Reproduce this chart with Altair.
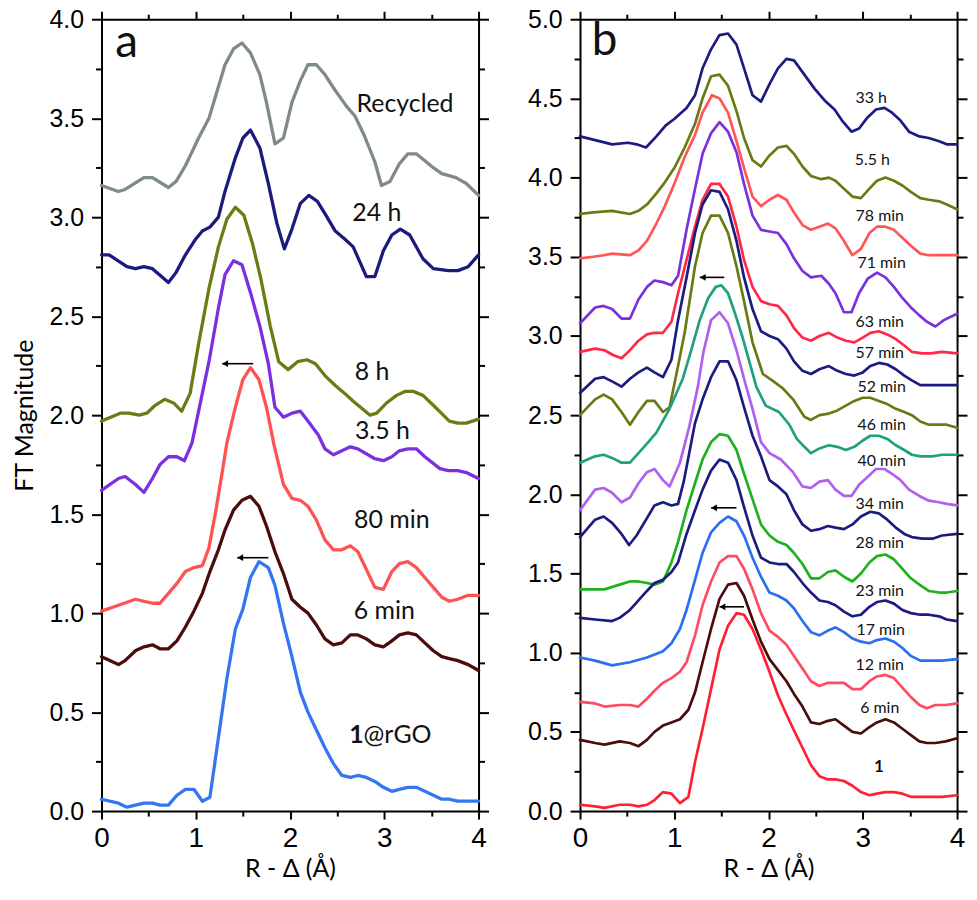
import altair as alt
import pandas as pd

# ---------------- Panel a : (R - Δ [Å], FT magnitude) ----------------
A_RECYCLED = [(0.00,3.16),(0.18,3.13),(0.25,3.14),(0.45,3.20),(0.54,3.20),(0.71,3.15),(0.79,3.18),(0.89,3.26),(1.03,3.40),(1.14,3.50),(1.31,3.77),(1.40,3.85),(1.49,3.88),(1.58,3.83),(1.68,3.72),(1.75,3.58),(1.84,3.37),(1.93,3.40),(2.02,3.58),(2.11,3.69),(2.19,3.77),(2.28,3.77),(2.37,3.72),(2.48,3.64),(2.60,3.56),(2.69,3.51),(2.79,3.41),(2.90,3.28),(2.97,3.16),(3.06,3.18),(3.16,3.27),(3.25,3.32),(3.34,3.32),(3.52,3.25),(3.61,3.22),(3.76,3.20),(3.87,3.17),(4.00,3.11)]
A_24H = [(0.00,2.81),(0.08,2.81),(0.27,2.75),(0.36,2.74),(0.45,2.75),(0.54,2.74),(0.71,2.67),(0.79,2.72),(0.89,2.81),(1.00,2.89),(1.07,2.93),(1.15,2.95),(1.24,3.00),(1.31,3.13),(1.42,3.30),(1.50,3.40),(1.58,3.44),(1.68,3.35),(1.77,3.17),(1.86,2.97),(1.94,2.84),(2.02,2.94),(2.11,3.07),(2.20,3.11),(2.29,3.08),(2.38,3.01),(2.48,2.93),(2.58,2.89),(2.67,2.85),(2.81,2.70),(2.90,2.70),(2.99,2.83),(3.08,2.91),(3.17,2.94),(3.27,2.91),(3.41,2.79),(3.52,2.74),(3.68,2.73),(3.78,2.73),(3.89,2.75),(4.00,2.81)]
A_8H = [(0.00,1.97),(0.20,2.01),(0.29,2.01),(0.40,2.00),(0.48,2.01),(0.57,2.05),(0.67,2.08),(0.77,2.06),(0.85,2.02),(0.94,2.11),(1.03,2.36),(1.14,2.64),(1.24,2.85),(1.33,2.99),(1.42,3.05),(1.51,3.01),(1.60,2.87),(1.69,2.69),(1.79,2.45),(1.88,2.27),(1.98,2.23),(2.08,2.27),(2.18,2.28),(2.27,2.26),(2.37,2.20),(2.48,2.15),(2.58,2.11),(2.67,2.07),(2.85,2.00),(2.92,2.01),(3.02,2.06),(3.13,2.10),(3.22,2.12),(3.31,2.12),(3.41,2.10),(3.52,2.05),(3.69,1.97),(3.78,1.96),(3.87,1.96),(4.00,1.98)]
A_35H = [(0.00,1.62),(0.18,1.68),(0.25,1.69),(0.36,1.65),(0.45,1.61),(0.54,1.68),(0.62,1.75),(0.71,1.79),(0.80,1.79),(0.88,1.77),(0.96,1.86),(1.03,2.02),(1.14,2.27),(1.24,2.54),(1.31,2.71),(1.40,2.78),(1.49,2.76),(1.58,2.62),(1.68,2.45),(1.77,2.26),(1.84,2.04),(1.93,1.99),(2.02,2.01),(2.11,2.02),(2.19,1.97),(2.30,1.90),(2.37,1.83),(2.46,1.80),(2.55,1.82),(2.64,1.84),(2.72,1.83),(2.90,1.78),(2.99,1.77),(3.08,1.79),(3.16,1.82),(3.25,1.83),(3.34,1.83),(3.43,1.79),(3.59,1.73),(3.68,1.72),(3.78,1.72),(3.87,1.71),(4.00,1.68)]
A_80MIN = [(0.00,1.01),(0.18,1.04),(0.36,1.07),(0.45,1.06),(0.54,1.05),(0.62,1.05),(0.71,1.10),(0.80,1.15),(0.89,1.21),(0.98,1.23),(1.07,1.24),(1.14,1.33),(1.21,1.51),(1.28,1.71),(1.33,1.86),(1.42,2.04),(1.50,2.18),(1.58,2.24),(1.67,2.18),(1.75,2.04),(1.83,1.85),(1.93,1.65),(2.02,1.58),(2.11,1.57),(2.19,1.54),(2.28,1.47),(2.37,1.37),(2.46,1.32),(2.55,1.32),(2.64,1.34),(2.72,1.31),(2.81,1.22),(2.90,1.13),(2.99,1.12),(3.08,1.21),(3.16,1.25),(3.25,1.26),(3.34,1.23),(3.43,1.18),(3.52,1.13),(3.61,1.08),(3.69,1.06),(3.78,1.07),(3.89,1.09),(4.00,1.09)]
A_6MIN = [(0.00,0.78),(0.18,0.74),(0.25,0.76),(0.36,0.81),(0.45,0.83),(0.54,0.84),(0.62,0.82),(0.71,0.82),(0.80,0.86),(0.89,0.93),(0.98,1.01),(1.07,1.10),(1.15,1.21),(1.24,1.32),(1.31,1.42),(1.40,1.52),(1.49,1.57),(1.58,1.59),(1.67,1.54),(1.75,1.44),(1.84,1.31),(1.93,1.20),(2.02,1.07),(2.11,1.03),(2.19,1.00),(2.28,0.94),(2.37,0.87),(2.46,0.84),(2.55,0.85),(2.64,0.89),(2.72,0.89),(2.81,0.87),(2.90,0.84),(2.99,0.83),(3.08,0.86),(3.16,0.89),(3.25,0.90),(3.34,0.89),(3.43,0.85),(3.52,0.81),(3.61,0.78),(3.69,0.77),(3.78,0.76),(3.89,0.74),(4.00,0.71)]
A_RGO = [(0.00,0.06),(0.18,0.04),(0.27,0.02),(0.36,0.03),(0.45,0.04),(0.54,0.04),(0.62,0.03),(0.71,0.03),(0.80,0.08),(0.89,0.11),(0.98,0.11),(1.07,0.05),(1.15,0.07),(1.24,0.37),(1.33,0.67),(1.42,0.92),(1.50,1.02),(1.58,1.18),(1.67,1.26),(1.77,1.23),(1.84,1.14),(1.93,0.95),(2.02,0.78),(2.11,0.60),(2.19,0.50),(2.28,0.41),(2.37,0.32),(2.46,0.24),(2.55,0.18),(2.64,0.17),(2.72,0.18),(2.81,0.17),(2.90,0.15),(2.99,0.12),(3.08,0.10),(3.16,0.11),(3.25,0.12),(3.34,0.12),(3.43,0.10),(3.52,0.08),(3.61,0.06),(3.69,0.06),(3.78,0.05),(3.89,0.05),(4.00,0.05)]

A_NAMES = ["Recycled", "24 h", "8 h", "3.5 h", "80 min", "6 min", "1@rGO"]
A_COLORS = ["#7F8A8A", "#1B1B7E", "#6A7D14", "#7B2FE0", "#FF5252", "#4A0C0C", "#3575F2"]
A_DATA = [A_RECYCLED, A_24H, A_8H, A_35H, A_80MIN, A_6MIN, A_RGO]

A_LABELS = ["Recycled", "24 h", "8 h", "3.5 h", "80 min", "6 min"]
A_LABEL_X = [3.22, 2.92, 2.87, 2.98, 3.08, 3.00]
A_LABEL_Y = [3.57, 3.02, 2.22, 1.92, 1.47, 1.01]
A_BOLD_PART = ["1"]
A_PLAIN_PART = ["@rGO"]
A_SPLIT_X = [2.78]
A_SPLIT_Y = [0.386]
A_ARROW_X1 = [1.28, 1.44]
A_ARROW_X2 = [1.61, 1.77]
A_ARROW_Y = [2.26, 1.28]

# ---------------- Panel b ----------------
B_33H = [(0.00,4.26),(0.14,4.24),(0.34,4.21),(0.51,4.22),(0.60,4.21),(0.70,4.19),(0.81,4.26),(0.91,4.33),(1.00,4.37),(1.13,4.44),(1.22,4.52),(1.30,4.69),(1.39,4.81),(1.48,4.90),(1.57,4.91),(1.66,4.84),(1.74,4.69),(1.83,4.52),(1.92,4.48),(2.01,4.59),(2.10,4.69),(2.19,4.75),(2.27,4.74),(2.38,4.65),(2.49,4.56),(2.59,4.49),(2.70,4.43),(2.78,4.36),(2.88,4.29),(2.96,4.31),(3.05,4.38),(3.14,4.43),(3.23,4.44),(3.31,4.41),(3.40,4.36),(3.49,4.29),(3.60,4.26),(3.70,4.25),(3.81,4.23),(3.89,4.21),(4.00,4.21)]
B_55H = [(0.00,3.77),(0.14,3.78),(0.34,3.79),(0.53,3.77),(0.62,3.79),(0.71,3.83),(0.81,3.90),(0.90,3.97),(1.00,4.06),(1.11,4.19),(1.22,4.34),(1.30,4.50),(1.39,4.64),(1.48,4.65),(1.57,4.58),(1.66,4.42),(1.74,4.25),(1.83,4.11),(1.92,4.07),(2.01,4.14),(2.10,4.19),(2.19,4.20),(2.27,4.15),(2.36,4.07),(2.45,4.01),(2.56,3.99),(2.64,4.00),(2.71,3.98),(2.80,3.93),(2.89,3.88),(2.98,3.87),(3.07,3.93),(3.15,3.98),(3.24,4.00),(3.33,3.98),(3.42,3.95),(3.51,3.91),(3.61,3.87),(3.70,3.86),(3.81,3.85),(3.89,3.83),(4.00,3.80)]
B_78MIN = [(0.00,3.49),(0.14,3.50),(0.25,3.51),(0.34,3.52),(0.53,3.51),(0.62,3.54),(0.71,3.60),(0.81,3.71),(0.90,3.82),(1.00,3.96),(1.11,4.13),(1.22,4.27),(1.30,4.41),(1.40,4.52),(1.48,4.50),(1.57,4.41),(1.66,4.23),(1.74,4.06),(1.83,3.88),(1.92,3.82),(2.01,3.86),(2.10,3.89),(2.19,3.86),(2.27,3.78),(2.36,3.70),(2.45,3.67),(2.54,3.69),(2.63,3.71),(2.71,3.68),(2.80,3.60),(2.89,3.51),(2.98,3.55),(3.07,3.65),(3.15,3.69),(3.24,3.69),(3.33,3.67),(3.42,3.62),(3.51,3.57),(3.61,3.52),(3.70,3.51),(3.81,3.51),(3.89,3.51),(4.00,3.51)]
B_71MIN = [(0.00,3.08),(0.16,3.18),(0.25,3.19),(0.34,3.17),(0.44,3.11),(0.53,3.11),(0.62,3.23),(0.71,3.31),(0.79,3.35),(0.88,3.34),(0.97,3.32),(1.04,3.38),(1.13,3.67),(1.22,3.93),(1.30,4.15),(1.39,4.28),(1.48,4.35),(1.57,4.29),(1.66,4.16),(1.74,3.96),(1.83,3.76),(1.92,3.67),(2.01,3.66),(2.10,3.65),(2.19,3.58),(2.27,3.49),(2.36,3.41),(2.45,3.37),(2.56,3.38),(2.64,3.33),(2.71,3.27),(2.80,3.15),(2.88,3.15),(2.96,3.27),(3.05,3.36),(3.15,3.40),(3.24,3.37),(3.33,3.31),(3.42,3.24),(3.51,3.18),(3.60,3.13),(3.68,3.09),(3.77,3.06),(3.86,3.10),(4.00,3.14)]
B_63MIN = [(0.00,2.90),(0.16,2.92),(0.26,2.91),(0.35,2.88),(0.44,2.86),(0.53,2.91),(0.62,2.97),(0.71,3.01),(0.79,3.02),(0.88,3.02),(0.97,3.09),(1.04,3.27),(1.13,3.48),(1.22,3.69),(1.30,3.86),(1.39,3.96),(1.48,3.96),(1.57,3.88),(1.66,3.69),(1.74,3.48),(1.83,3.31),(1.92,3.22),(2.01,3.20),(2.10,3.19),(2.19,3.13),(2.27,3.05),(2.36,2.99),(2.45,2.97),(2.54,3.00),(2.64,3.02),(2.73,2.99),(2.82,2.97),(2.91,2.96),(3.00,2.99),(3.08,3.02),(3.17,3.03),(3.26,3.01),(3.35,2.98),(3.44,2.94),(3.52,2.90),(3.63,2.89),(3.72,2.89),(3.84,2.90),(4.00,2.89)]
B_57MIN = [(0.00,2.64),(0.16,2.73),(0.25,2.74),(0.35,2.71),(0.44,2.68),(0.53,2.73),(0.62,2.77),(0.71,2.80),(0.79,2.77),(0.88,2.74),(0.97,2.85),(1.04,3.10),(1.13,3.37),(1.22,3.65),(1.30,3.83),(1.39,3.92),(1.48,3.91),(1.57,3.80),(1.66,3.60),(1.74,3.37),(1.83,3.17),(1.92,3.03),(2.01,3.00),(2.10,2.98),(2.19,2.92),(2.27,2.84),(2.36,2.78),(2.45,2.76),(2.54,2.79),(2.64,2.81),(2.73,2.78),(2.82,2.76),(2.91,2.75),(3.00,2.77),(3.08,2.81),(3.17,2.83),(3.26,2.82),(3.35,2.79),(3.44,2.75),(3.52,2.72),(3.61,2.69),(3.74,2.69),(3.84,2.69),(4.00,2.69)]
B_52MIN = [(0.00,2.50),(0.16,2.60),(0.25,2.63),(0.34,2.60),(0.44,2.52),(0.53,2.44),(0.62,2.52),(0.71,2.59),(0.79,2.59),(0.88,2.52),(0.95,2.55),(1.04,2.81),(1.11,3.02),(1.17,3.25),(1.22,3.44),(1.30,3.65),(1.39,3.76),(1.48,3.76),(1.57,3.65),(1.66,3.44),(1.74,3.22),(1.83,2.96),(1.94,2.76),(2.06,2.71),(2.15,2.67),(2.26,2.60),(2.38,2.49),(2.45,2.47),(2.54,2.50),(2.64,2.51),(2.73,2.53),(2.82,2.56),(2.91,2.59),(3.00,2.61),(3.08,2.61),(3.17,2.59),(3.26,2.57),(3.35,2.54),(3.44,2.52),(3.52,2.50),(3.61,2.46),(3.70,2.44),(3.81,2.44),(3.89,2.44),(4.00,2.42)]
B_46MIN = [(0.00,2.20),(0.16,2.24),(0.25,2.25),(0.34,2.23),(0.44,2.20),(0.53,2.20),(0.62,2.26),(0.71,2.32),(0.81,2.39),(0.95,2.54),(1.09,2.73),(1.18,2.91),(1.27,3.10),(1.36,3.24),(1.44,3.31),(1.50,3.32),(1.57,3.27),(1.64,3.15),(1.72,3.00),(1.80,2.83),(1.87,2.68),(1.97,2.56),(2.11,2.52),(2.22,2.44),(2.30,2.35),(2.38,2.30),(2.45,2.26),(2.54,2.29),(2.64,2.31),(2.73,2.30),(2.82,2.28),(2.91,2.30),(3.00,2.34),(3.08,2.37),(3.17,2.37),(3.26,2.35),(3.35,2.31),(3.44,2.28),(3.52,2.25),(3.61,2.24),(3.74,2.24),(3.84,2.25),(4.00,2.25)]
B_40MIN = [(0.00,1.90),(0.16,2.03),(0.25,2.04),(0.34,2.01),(0.44,1.95),(0.53,1.98),(0.62,2.07),(0.71,2.14),(0.79,2.16),(0.88,2.09),(0.95,2.05),(1.06,2.20),(1.16,2.43),(1.25,2.68),(1.31,2.90),(1.39,3.10),(1.48,3.15),(1.57,3.08),(1.66,2.91),(1.74,2.73),(1.83,2.54),(1.92,2.33),(2.01,2.26),(2.13,2.22),(2.26,2.14),(2.36,2.05),(2.45,2.04),(2.54,2.08),(2.63,2.09),(2.71,2.03),(2.80,1.99),(2.88,1.99),(2.96,2.06),(3.05,2.11),(3.14,2.16),(3.23,2.16),(3.31,2.13),(3.40,2.09),(3.49,2.03),(3.60,1.99),(3.70,1.96),(3.81,1.95),(3.89,1.94),(4.00,1.93)]
B_34MIN = [(0.00,1.73),(0.16,1.84),(0.25,1.86),(0.34,1.82),(0.44,1.75),(0.52,1.68),(0.60,1.74),(0.71,1.85),(0.79,1.93),(0.88,1.95),(0.97,1.93),(1.04,1.94),(1.10,2.08),(1.22,2.45),(1.30,2.60),(1.39,2.74),(1.48,2.84),(1.57,2.84),(1.66,2.72),(1.74,2.55),(1.83,2.37),(1.92,2.24),(2.01,2.09),(2.10,2.05),(2.19,2.00),(2.27,1.90),(2.36,1.81),(2.45,1.77),(2.54,1.78),(2.63,1.80),(2.71,1.79),(2.80,1.78),(2.89,1.81),(2.98,1.86),(3.08,1.89),(3.17,1.88),(3.26,1.84),(3.35,1.79),(3.44,1.75),(3.52,1.73),(3.63,1.72),(3.74,1.72),(3.84,1.74),(4.00,1.75)]
B_28MIN = [(0.00,1.40),(0.16,1.40),(0.26,1.40),(0.42,1.43),(0.53,1.45),(0.62,1.45),(0.71,1.44),(0.79,1.43),(0.88,1.45),(0.97,1.57),(1.04,1.70),(1.13,1.90),(1.22,2.07),(1.30,2.22),(1.39,2.33),(1.48,2.38),(1.57,2.37),(1.66,2.28),(1.74,2.13),(1.83,1.97),(1.92,1.81),(2.01,1.74),(2.10,1.70),(2.19,1.68),(2.27,1.63),(2.36,1.56),(2.45,1.47),(2.54,1.47),(2.63,1.51),(2.71,1.52),(2.80,1.48),(2.89,1.45),(2.98,1.50),(3.07,1.57),(3.15,1.61),(3.24,1.62),(3.33,1.59),(3.42,1.53),(3.51,1.47),(3.60,1.43),(3.70,1.39),(3.81,1.38),(3.89,1.38),(4.00,1.39)]
B_23MIN = [(0.00,1.22),(0.16,1.21),(0.34,1.20),(0.42,1.22),(0.53,1.27),(0.62,1.33),(0.71,1.39),(0.79,1.44),(0.88,1.46),(0.97,1.51),(1.04,1.57),(1.13,1.75),(1.22,1.90),(1.30,2.03),(1.39,2.15),(1.48,2.22),(1.57,2.20),(1.66,2.09),(1.74,1.92),(1.83,1.74),(1.92,1.60),(2.01,1.57),(2.10,1.56),(2.19,1.56),(2.27,1.51),(2.36,1.44),(2.45,1.38),(2.54,1.33),(2.63,1.32),(2.71,1.30),(2.80,1.26),(2.89,1.23),(2.98,1.24),(3.07,1.29),(3.15,1.32),(3.24,1.33),(3.33,1.31),(3.42,1.27),(3.51,1.25),(3.61,1.24),(3.70,1.24),(3.81,1.23),(3.89,1.21),(4.00,1.20)]
B_17MIN = [(0.00,0.97),(0.16,0.95),(0.34,0.92),(0.53,0.94),(0.71,0.97),(0.88,1.01),(0.97,1.06),(1.06,1.15),(1.13,1.27),(1.22,1.46),(1.30,1.63),(1.39,1.76),(1.48,1.82),(1.57,1.86),(1.66,1.83),(1.74,1.74),(1.83,1.60),(1.92,1.48),(2.01,1.38),(2.10,1.36),(2.19,1.33),(2.27,1.28),(2.36,1.20),(2.45,1.13),(2.54,1.11),(2.63,1.14),(2.71,1.16),(2.80,1.13),(2.89,1.09),(2.98,1.07),(3.07,1.06),(3.15,1.08),(3.24,1.09),(3.33,1.07),(3.42,1.03),(3.51,0.98),(3.61,0.95),(3.72,0.95),(3.84,0.95),(4.00,0.96)]
B_12MIN = [(0.00,0.69),(0.16,0.68),(0.26,0.66),(0.42,0.67),(0.53,0.67),(0.62,0.66),(0.71,0.71),(0.79,0.76),(0.88,0.81),(0.97,0.84),(1.06,0.88),(1.13,0.94),(1.22,1.11),(1.30,1.30),(1.39,1.45),(1.48,1.57),(1.57,1.61),(1.66,1.61),(1.74,1.53),(1.83,1.40),(1.92,1.25),(2.01,1.14),(2.10,1.10),(2.19,1.05),(2.27,0.98),(2.36,0.90),(2.45,0.82),(2.54,0.79),(2.63,0.81),(2.71,0.81),(2.80,0.81),(2.89,0.77),(2.98,0.77),(3.07,0.82),(3.15,0.85),(3.24,0.86),(3.33,0.84),(3.42,0.78),(3.51,0.72),(3.60,0.67),(3.68,0.65),(3.77,0.67),(3.88,0.67),(4.00,0.68)]
B_6MIN = [(0.00,0.45),(0.16,0.43),(0.26,0.42),(0.42,0.44),(0.53,0.43),(0.62,0.41),(0.71,0.45),(0.79,0.50),(0.88,0.54),(0.97,0.56),(1.06,0.58),(1.15,0.64),(1.22,0.75),(1.30,0.94),(1.39,1.15),(1.48,1.34),(1.57,1.43),(1.66,1.44),(1.74,1.36),(1.83,1.21),(1.92,1.07),(2.01,0.96),(2.10,0.89),(2.19,0.82),(2.27,0.74),(2.36,0.66),(2.45,0.56),(2.54,0.55),(2.63,0.57),(2.71,0.58),(2.80,0.54),(2.89,0.50),(2.98,0.49),(3.07,0.53),(3.15,0.56),(3.24,0.58),(3.33,0.56),(3.42,0.52),(3.51,0.48),(3.60,0.44),(3.68,0.43),(3.77,0.43),(3.88,0.44),(4.00,0.46)]
B_1 = [(0.00,0.04),(0.16,0.03),(0.26,0.02),(0.42,0.04),(0.53,0.04),(0.62,0.03),(0.71,0.04),(0.79,0.07),(0.88,0.12),(0.97,0.11),(1.06,0.05),(1.15,0.09),(1.22,0.31),(1.30,0.52),(1.39,0.77),(1.48,1.02),(1.57,1.17),(1.66,1.25),(1.74,1.24),(1.83,1.15),(1.92,1.02),(2.01,0.88),(2.10,0.73),(2.19,0.61),(2.27,0.51),(2.36,0.40),(2.45,0.29),(2.54,0.22),(2.63,0.20),(2.71,0.20),(2.80,0.19),(2.89,0.16),(2.98,0.12),(3.07,0.10),(3.15,0.11),(3.24,0.12),(3.33,0.12),(3.42,0.11),(3.51,0.09),(3.61,0.09),(3.72,0.09),(3.84,0.09),(4.00,0.10)]

B_NAMES = ["33 h", "5.5 h", "78 min", "71 min", "63 min", "57 min", "52 min", "46 min",
           "40 min", "34 min", "28 min", "23 min", "17 min", "12 min", "6 min", "1"]
B_COLORS = ["#1B1B80", "#6A7A12", "#FF5555", "#7A30DC", "#FF2848", "#1B1B80", "#6A7A12", "#1FA07E",
            "#B060F0", "#1B1B80", "#1FB01F", "#1B1B80", "#2A6FF0", "#FF4A62", "#4A0C0C", "#FF2035"]
B_DATA = [B_33H, B_55H, B_78MIN, B_71MIN, B_63MIN, B_57MIN, B_52MIN, B_46MIN,
          B_40MIN, B_34MIN, B_28MIN, B_23MIN, B_17MIN, B_12MIN, B_6MIN, B_1]

B_LABELS = ["33 h", "5.5 h", "78 min", "71 min", "63 min", "57 min", "52 min", "46 min",
            "40 min", "34 min", "28 min", "23 min", "17 min", "12 min", "6 min"]
B_LABEL_X = [3.09, 3.10, 3.18, 3.20, 3.18, 3.18, 3.20, 3.20, 3.20, 3.18, 3.18, 3.18, 3.19, 3.18, 3.18]
B_LABEL_Y = [4.50, 4.11, 3.76, 3.46, 3.09, 2.89, 2.68, 2.44, 2.21, 1.94, 1.69, 1.39, 1.145, 0.925, 0.652]
B_BOLD = ["1"]
B_BOLD_X = [3.17]
B_BOLD_Y = [0.276]
B_ARROW_X1 = [1.27, 1.39, 1.48]
B_ARROW_X2 = [1.53, 1.66, 1.74]
B_ARROW_Y = [3.37, 1.915, 1.29]

X_TICKS = [0, 0.5, 1, 1.5, 2, 2.5, 3, 3.5, 4]
A_Y_TICKS = [i * 0.25 for i in range(17)]
B_Y_TICKS = [i * 0.25 for i in range(21)]

LABEL_FONT = "Liberation Sans"
TEXT_FONT = "Lato"


def curves_df(names, datas, prefix):
    rows = []
    for name, data in zip(names, datas):
        for i, (x, y) in enumerate(data):
            rows.append({"key": prefix + name, "x": x, "y": y, "i": i})
    return pd.DataFrame(rows)


def make_panel(names, colors, datas, prefix, ymax, yticks, labels, lx, ly, lsize,
               ax1, ax2, ay, letter, letter_x, letter_y, extra_text, stroke_w):
    df = curves_df(names, datas, prefix)
    keys = [prefix + n for n in names]
    xs = alt.Scale(domain=[0, 4], nice=False, zero=False)
    ys = alt.Scale(domain=[0, ymax], nice=False, zero=False)
    xmajor = "datum.value == round(datum.value)"
    ymajor = "datum.value * 2 == round(datum.value * 2)"
    common = dict(domainColor="black", domainWidth=2, tickColor="black", tickWidth=2,
                  grid=False, labelColor="black", labelFont=LABEL_FONT)
    x_bottom = alt.Axis(values=X_TICKS, orient="bottom",
                        tickSize={"condition": {"test": xmajor, "value": 8}, "value": 5},
                        labelExpr="datum.value == round(datum.value) ? format(datum.value, 'd') : ''",
                        labelFontSize=28, labelPadding=6, labelOverlap=False, labelFlush=False,
                        title="R - Δ (Å)", titleFont=TEXT_FONT, titleFontSize=25,
                        titleFontWeight="normal", titleColor="black", titlePadding=4, **common)
    y_left = alt.Axis(values=yticks, orient="left",
                      tickSize={"condition": {"test": ymajor, "value": 10}, "value": 6},
                      labelExpr="datum.value * 2 == round(datum.value * 2) ? format(datum.value, '.1f') : ''",
                      labelFontSize=25, labelPadding=8, labelOverlap=False, labelFlush=False,
                      title=("FT Magnitude" if prefix == "a:" else None), titleFont=TEXT_FONT,
                      titleFontSize=25, titleFontWeight="normal", titleColor="black",
                      titlePadding=12, **common)
    x_top = alt.Axis(values=X_TICKS, orient="top", labels=False, title=None,
                     tickSize={"condition": {"test": xmajor, "value": 8}, "value": 5}, **common)
    y_right = alt.Axis(values=yticks, orient="right", labels=False, title=None,
                       tickSize={"condition": {"test": ymajor, "value": 10}, "value": 6}, **common)

    lines = alt.Chart(df).mark_line(strokeWidth=stroke_w, strokeJoin="round", strokeCap="round").encode(
        x=alt.X("x:Q", scale=xs, axis=x_bottom),
        y=alt.Y("y:Q", scale=ys, axis=y_left),
        color=alt.Color("key:N", scale=alt.Scale(domain=keys, range=colors), legend=None),
        order=alt.Order("i:Q"),
    )
    mirror = alt.Chart(df).mark_point(opacity=0, size=1).encode(
        x=alt.X("x:Q", scale=xs, axis=x_top),
        y=alt.Y("y:Q", scale=ys, axis=y_right),
    )
    lab_df = pd.DataFrame({"t": labels, "x": lx, "y": ly})
    texts = alt.Chart(lab_df).mark_text(font=TEXT_FONT, fontSize=lsize, color="#111111",
                                        align="center", baseline="middle").encode(
        x=alt.X("x:Q", scale=xs, axis=None), y=alt.Y("y:Q", scale=ys, axis=None), text="t:N")
    let_df = pd.DataFrame({"t": [letter], "x": [letter_x], "y": [letter_y]})
    letter_mark = alt.Chart(let_df).mark_text(font=TEXT_FONT, fontSize=46, color="#111111",
                                              align="left", baseline="alphabetic").encode(
        x=alt.X("x:Q", scale=xs, axis=None), y=alt.Y("y:Q", scale=ys, axis=None), text="t:N")
    arr_df = pd.DataFrame({"x1": ax1, "x2": ax2, "y": ay})
    arrow_line = alt.Chart(arr_df).mark_rule(color="black", strokeWidth=1.6).encode(
        x=alt.X("x1:Q", scale=xs, axis=None), x2="x2:Q", y=alt.Y("y:Q", scale=ys, axis=None))
    arrow_head = alt.Chart(arr_df).mark_point(shape="triangle-left", filled=True, color="black",
                                              opacity=1, size=45, xOffset=3).encode(
        x=alt.X("x1:Q", scale=xs, axis=None), y=alt.Y("y:Q", scale=ys, axis=None))
    layers = [lines, mirror, texts, letter_mark, arrow_line, arrow_head] + extra_text(xs, ys)
    return alt.layer(*layers).resolve_axis(x="independent", y="independent").properties(
        width=379, height=796)


def a_extra(xs, ys):
    bold_df = pd.DataFrame({"t": A_BOLD_PART, "x": A_SPLIT_X, "y": A_SPLIT_Y})
    plain_df = pd.DataFrame({"t": A_PLAIN_PART, "x": A_SPLIT_X, "y": A_SPLIT_Y})
    b = alt.Chart(bold_df).mark_text(font=TEXT_FONT, fontSize=25, fontWeight="bold", color="#111111",
                                     align="right", baseline="middle").encode(
        x=alt.X("x:Q", scale=xs, axis=None), y=alt.Y("y:Q", scale=ys, axis=None), text="t:N")
    p = alt.Chart(plain_df).mark_text(font=TEXT_FONT, fontSize=25, color="#111111",
                                      align="left", baseline="middle").encode(
        x=alt.X("x:Q", scale=xs, axis=None), y=alt.Y("y:Q", scale=ys, axis=None), text="t:N")
    return [b, p]


def b_extra(xs, ys):
    bold_df = pd.DataFrame({"t": B_BOLD, "x": B_BOLD_X, "y": B_BOLD_Y})
    b = alt.Chart(bold_df).mark_text(font=TEXT_FONT, fontSize=17, fontWeight="bold", color="#111111",
                                     align="center", baseline="middle").encode(
        x=alt.X("x:Q", scale=xs, axis=None), y=alt.Y("y:Q", scale=ys, axis=None), text="t:N")
    return [b]


panel_a = make_panel(A_NAMES, A_COLORS, A_DATA, "a:", 4.0, A_Y_TICKS, A_LABELS, A_LABEL_X, A_LABEL_Y,
                     25, A_ARROW_X1, A_ARROW_X2, A_ARROW_Y, "a", 0.145, 3.81, a_extra, 3.3)
panel_b = make_panel(B_NAMES, B_COLORS, B_DATA, "b:", 5.0, B_Y_TICKS, B_LABELS, B_LABEL_X, B_LABEL_Y,
                     16, B_ARROW_X1, B_ARROW_X2, B_ARROW_Y, "b", 0.124, 4.774, b_extra, 2.7)

chart = alt.hconcat(panel_a, panel_b, spacing=36).resolve_scale(color="independent").properties(
    padding={"left": 3, "top": -4, "right": 0, "bottom": 0}
).configure_view(stroke=None).configure(background="white")

chart.save("out.html", embed_options={"renderer": "svg", "actions": False})
